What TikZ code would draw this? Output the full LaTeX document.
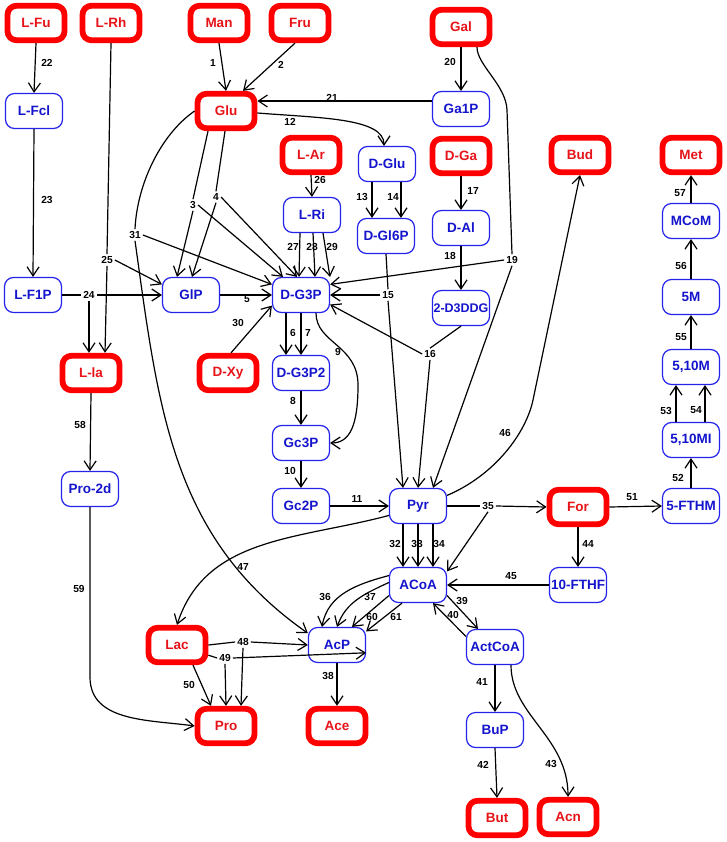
\documentclass[tikz,border=0pt]{standalone}
\usepackage{fontspec}
\setmainfont{Liberation Sans}
\usetikzlibrary{arrows.meta}
\definecolor{nred}{RGB}{255,0,0}
\definecolor{tred}{RGB}{230,20,25}
\definecolor{nblue}{RGB}{35,35,235}
\definecolor{tblue}{RGB}{20,20,205}
\begin{document}
\begin{tikzpicture}[x=1pt,y=-1pt,
 nbase/.style={rounded corners=9pt, inner sep=1pt, font=\fontsize{13.5}{15}\selectfont\bfseries, align=center},
 rnode/.style={nbase, draw=nred, line width=5.8pt, minimum width=57pt, minimum height=34.5pt, text=tred, fill=white},
 bnode/.style={nbase, draw=nblue, line width=1.2pt, minimum width=57pt, minimum height=35pt, text=tblue, fill=white},
 lbl/.style={font=\fontsize{10.2}{12}\selectfont\bfseries, inner sep=0pt},
 rx/.style={lbl, inner sep=2pt},
 ln/.style={draw, line width=1.2pt},
 arr/.style={ln, -{Straight Barb[length=9pt,width=12pt]}},
]
\useasboundingbox (0,0) rectangle (726,842);

% nodes
\node[rnode] (LFu) at (36,23) {L-Fu};
\node[rnode] (LRh) at (111,23) {L-Rh};
\node[rnode] (Man) at (219,23) {Man};
\node[rnode] (Fru) at (300,23) {Fru};
\node[rnode] (Gal) at (461,27) {Gal};
\node[rnode] (Glu) at (226,111) {Glu};
\node[bnode] (LFcl) at (34,111) {L-Fcl};
\node[bnode] (Ga1P) at (461,109) {Ga1P};
\node[bnode] (DGlu) at (387,164) {D-Glu};
\node[rnode] (DGa) at (461,156) {D-Ga};
\node[rnode] (Bud) at (580,155) {Bud};
\node[rnode] (Met) at (691,155) {Met};
\node[rnode] (LAr) at (311,155) {L-Ar};
\node[bnode] (LRi) at (312,215) {L-Ri};
\node[bnode] (DGl6P) at (386,236) {D-Gl6P};
\node[bnode] (DAl) at (461,228) {D-Al};
\node[bnode] (MCoM) at (691,221) {MCoM};
\node[bnode] (LF1P) at (33,295) {L-F1P};
\node[bnode] (GlP) at (191,295) {GlP};
\node[bnode] (DG3P) at (301,295) {D-G3P};
\node[bnode, font=\fontsize{12.5}{14}\selectfont\bfseries] (D3DDG) at (461,308) {2-D3DDG};
\node[bnode] (M5) at (691,297) {5M};
\node[rnode] (Lla) at (91,373) {L-la};
\node[rnode] (DXy) at (228,373) {D-Xy};
\node[bnode] (DG3P2) at (301,373) {D-G3P2};
\node[bnode] (M510) at (691,367) {5,10M};
\node[bnode] (Pro2d) at (90,489) {Pro-2d};
\node[bnode] (Gc3P) at (301,443) {Gc3P};
\node[bnode] (MI510) at (691,440) {5,10MI};
\node[bnode] (Gc2P) at (301,506) {Gc2P};
\node[bnode] (Pyr) at (418,506) {Pyr};
\node[rnode] (For) at (578,507) {For};
\node[bnode] (FTHM) at (691,506) {5-FTHM};
\node[bnode] (ACoA) at (418,585) {ACoA};
\node[bnode] (FTHF) at (578,585) {10-FTHF};
\node[rnode] (Lac) at (177,645) {Lac};
\node[bnode] (AcP) at (337,645) {AcP};
\node[bnode] (ActCoA) at (495,647) {ActCoA};
\node[rnode] (Pro) at (226,726) {Pro};
\node[rnode] (Ace) at (337,726) {Ace};
\node[bnode] (BuP) at (495,730) {BuP};
\node[rnode] (But) at (497,818) {But};
\node[rnode] (Acn) at (568,817) {Acn};

% reaction branch labels
\node[rx] (r3) at (193,205) {3};
\node[rx] (r4) at (216,197) {4};
\node[rx] (r15) at (388,295) {15};
\node[rx] (r16) at (430,354) {16};
\node[rx] (r19) at (512,260) {19};
\node[rx] (r24) at (89,295) {24};
\node[rx] (r25) at (107,260) {25};
\node[rx] (r31) at (135,235) {31};
\node[rx] (r35) at (488,506) {35};
\node[rx] (r48) at (243,642) {48};
\node[rx] (r49) at (225,658) {49};

% plain labels
\node[lbl] (t1) at (213,63) {1};
\node[lbl] (t2) at (281,65) {2};
\node[lbl] (t5) at (247,299) {5};
\node[lbl] (t6) at (293,333) {6};
\node[lbl] (t7) at (308,333) {7};
\node[lbl] (t8) at (293,401) {8};
\node[lbl] (t9) at (338,352) {9};
\node[lbl] (t10) at (290,471) {10};
\node[lbl] (t11) at (357,499) {11};
\node[lbl] (t12) at (290,122) {12};
\node[lbl] (t13) at (362,197) {13};
\node[lbl] (t14) at (393,197) {14};
\node[lbl] (t17) at (473,191) {17};
\node[lbl] (t18) at (450,256) {18};
\node[lbl] (t20) at (450,62) {20};
\node[lbl] (t21) at (332,98) {21};
\node[lbl] (t22) at (47,63) {22};
\node[lbl] (t23) at (47,200) {23};
\node[lbl] (t26) at (320,180) {26};
\node[lbl] (t27) at (293,247) {27};
\node[lbl] (t28) at (312,247) {28};
\node[lbl] (t29) at (332,247) {29};
\node[lbl] (t30) at (238,323) {30};
\node[lbl] (t32) at (395,544) {32};
\node[lbl] (t33) at (417,544) {33};
\node[lbl] (t34) at (439,544) {34};
\node[lbl] (t36) at (325,597) {36};
\node[lbl] (t37) at (370,597) {37};
\node[lbl] (t38) at (328,676) {38};
\node[lbl] (t39) at (462,601) {39};
\node[lbl] (t40) at (453,615) {40};
\node[lbl] (t41) at (482,682) {41};
\node[lbl] (t42) at (483,765) {42};
\node[lbl] (t43) at (551,764) {43};
\node[lbl] (t44) at (588,544) {44};
\node[lbl] (t45) at (511,576) {45};
\node[lbl] (t46) at (505,433) {46};
\node[lbl] (t47) at (243,567) {47};
\node[lbl] (t50) at (189,685) {50};
\node[lbl] (t51) at (632,497) {51};
\node[lbl] (t52) at (678,478) {52};
\node[lbl] (t53) at (666,411) {53};
\node[lbl] (t54) at (696,410) {54};
\node[lbl] (t55) at (681,337) {55};
\node[lbl] (t56) at (681,266) {56};
\node[lbl] (t57) at (680,193) {57};
\node[lbl] (t58) at (80,425) {58};
\node[lbl] (t59) at (79,589) {59};
\node[lbl] (t60) at (372,617) {60};
\node[lbl] (t61) at (396,617) {61};

% edges
\draw[arr] (Man.south) -- (Glu.north);
\draw[arr] ([xshift=-5pt]Fru.south) -- ([xshift=17pt]Glu.north);
\draw[arr] (Ga1P.west |- 0,101) -- (Glu.east |- 0,101);
\draw[arr] ([yshift=-2pt]Glu.east) .. controls (320,118) and (384,118) .. ([xshift=-3pt]DGlu.north);
\draw[arr] (LFu.south) -- (LFcl.north);
\draw[arr] (LFcl.south) -- (LF1P.north);
\draw[ln] (LF1P.east) -- (r24.west);
\draw[arr] (r24.east) -- (GlP.west);
\draw[arr] (r24.south) -- (r24.south |- Lla.north);
\draw[ln] (LRh.south) -- (r25.north);
\draw[arr] (r25.south) -- ([xshift=14pt]Lla.north);
\draw[arr] (r25.east) -- (GlP.160);
\draw[ln] ([xshift=-18pt]Glu.south) -- (r3.north);
\draw[arr] (r3.south) -- ([xshift=-14pt]GlP.north);
\draw[arr] (r3.east) -- ([xshift=-18pt]DG3P.north);
\draw[ln] ([xshift=-1pt]Glu.south) -- (r4.north);
\draw[arr] (r4.south) -- ([xshift=1pt]GlP.north);
\draw[arr] (r4.east) -- ([xshift=-4pt]DG3P.north);
\draw[ln] (Glu.west) .. controls (160,135) and (137,185) .. (r31.north);
\draw[arr] (r31.south) to[out=-82, in=145] (AcP.158);
\draw[arr] (r31.east) -- (DG3P.160);
\draw[arr] (GlP.east) -- (DG3P.west);
\draw[arr] ([xshift=3pt]DXy.north) -- (DG3P.200);
\draw[arr] (LAr.south) -- (LRi.north);
\draw[arr] ([xshift=-12pt]LRi.south) -- ([xshift=-2pt]DG3P.north);
\draw[arr] ([xshift=1pt]LRi.south) -- ([xshift=14pt]DG3P.north);
\draw[arr] ([xshift=11pt]LRi.south) -- (DG3P.32);
\draw[arr] ([xshift=-15pt]DGlu.south) -- ([xshift=-14pt]DGl6P.north);
\draw[arr] ([xshift=14pt]DGlu.south) -- ([xshift=15pt]DGl6P.north);
\draw[arr] (DGa.south) -- (DAl.north);
\draw[arr] (DAl.south) -- (D3DDG.north);
\draw[arr] (Gal.south) -- (Ga1P.north);
\draw[ln] ([xshift=16pt]Gal.south) .. controls +(0,18) and +(-1,-25) .. (507,110) -- (r19.north);
\draw[arr] (r19.west) -- (DG3P.20);
\draw[arr] (r19.south) -- ([xshift=15pt]Pyr.north);
\draw[ln] (DGl6P.south) -- (r15.north);
\draw[arr] (r15.west) -- (DG3P.east);
\draw[arr] (r15.south) -- ([xshift=-15pt]Pyr.north);
\draw[ln] (D3DDG.south) -- (r16.north);
\draw[arr] (r16.west) -- (DG3P.-18);
\draw[arr] (r16.south) -- (Pyr.north);
\draw[arr] ([xshift=-15pt]DG3P.south) -- ([xshift=-15pt]DG3P2.north);
\draw[arr] (DG3P.south) -- (DG3P2.north);
\draw[arr] ([xshift=15pt]DG3P.south) .. controls +(0,30) and +(0,-40) .. (358,385) .. controls +(0,40) and +(20,0) .. (Gc3P.east);
\draw[arr] (DG3P2.south) -- (Gc3P.north);
\draw[arr] (Gc3P.south) -- (Gc2P.north);
\draw[arr] (Gc2P.east) -- (Pyr.west);
\draw[arr] (Pyr.20) .. controls (495,475) and (526,433) .. (533,400) -- (Bud.south);
\draw[ln] (Pyr.east) -- (r35.west);
\draw[arr] (r35.east) -- (For.west);
\draw[arr] (r35.south) -- (ACoA.25);
\draw[arr] ([xshift=-15pt]Pyr.south) -- ([xshift=-15pt]ACoA.north);
\draw[arr] (Pyr.south) -- (ACoA.north);
\draw[arr] ([xshift=15pt]Pyr.south) -- ([xshift=15pt]ACoA.north);
\draw[arr] (Pyr.198) to[out=195, in=72] (Lac.north);
\draw[arr] (For.south) -- (FTHF.north);
\draw[arr] (FTHF.west) -- (ACoA.east);
\draw[arr] (For.east) -- (FTHM.west);
\draw[arr] (FTHM.north) -- (MI510.south);
\draw[arr] ([xshift=-15pt]MI510.north) -- ([xshift=-15pt]M510.south);
\draw[arr] ([xshift=14pt]MI510.north) -- ([xshift=14pt]M510.south);
\draw[arr] (M510.north) -- (M5.south);
\draw[arr] (M5.north) -- (MCoM.south);
\draw[arr] (MCoM.north) -- (Met.south);
\draw[arr] (ACoA.162) to[out=195, in=80] ([xshift=-15pt]AcP.north);
\draw[arr] (ACoA.175) to[out=205, in=70] (AcP.north);
\draw[arr] (ACoA.200) -- ([xshift=15pt]AcP.north);
\draw[arr] ([xshift=-16pt]ACoA.south) -- (AcP.25);
\draw[arr] (ACoA.-20) -- ([xshift=-17pt]ActCoA.north);
\draw[arr] (ActCoA.160) -- ([xshift=15pt]ACoA.south);
\draw[arr] (ActCoA.south) -- (BuP.north);
\draw[arr] (BuP.south) -- (But.north);
\draw[arr] ([xshift=16pt]ActCoA.south) .. controls +(0,50) and +(0,-60) .. (Acn.north);
\draw[arr] (AcP.south) -- (Ace.north);
\draw[ln] (Lac.east) -- (r48.west);
\draw[arr] (r48.east) -- (AcP.west);
\draw[arr] (r48.south) -- ([xshift=15pt]Pro.north);
\draw[ln] (Lac.-18) -- (r49.west);
\draw[arr] (r49.east) -- (AcP.-15);
\draw[arr] (r49.south) -- (Pro.north);
\draw[arr] ([xshift=16pt]Lac.south) -- ([xshift=-15pt]Pro.north);
\draw[arr] (Lla.south) -- (Pro2d.north);
\draw[arr] (Pro2d.south) -- ++(0,170) to[out=-90, in=172] (Pro.west);
\end{tikzpicture}
\end{document}
